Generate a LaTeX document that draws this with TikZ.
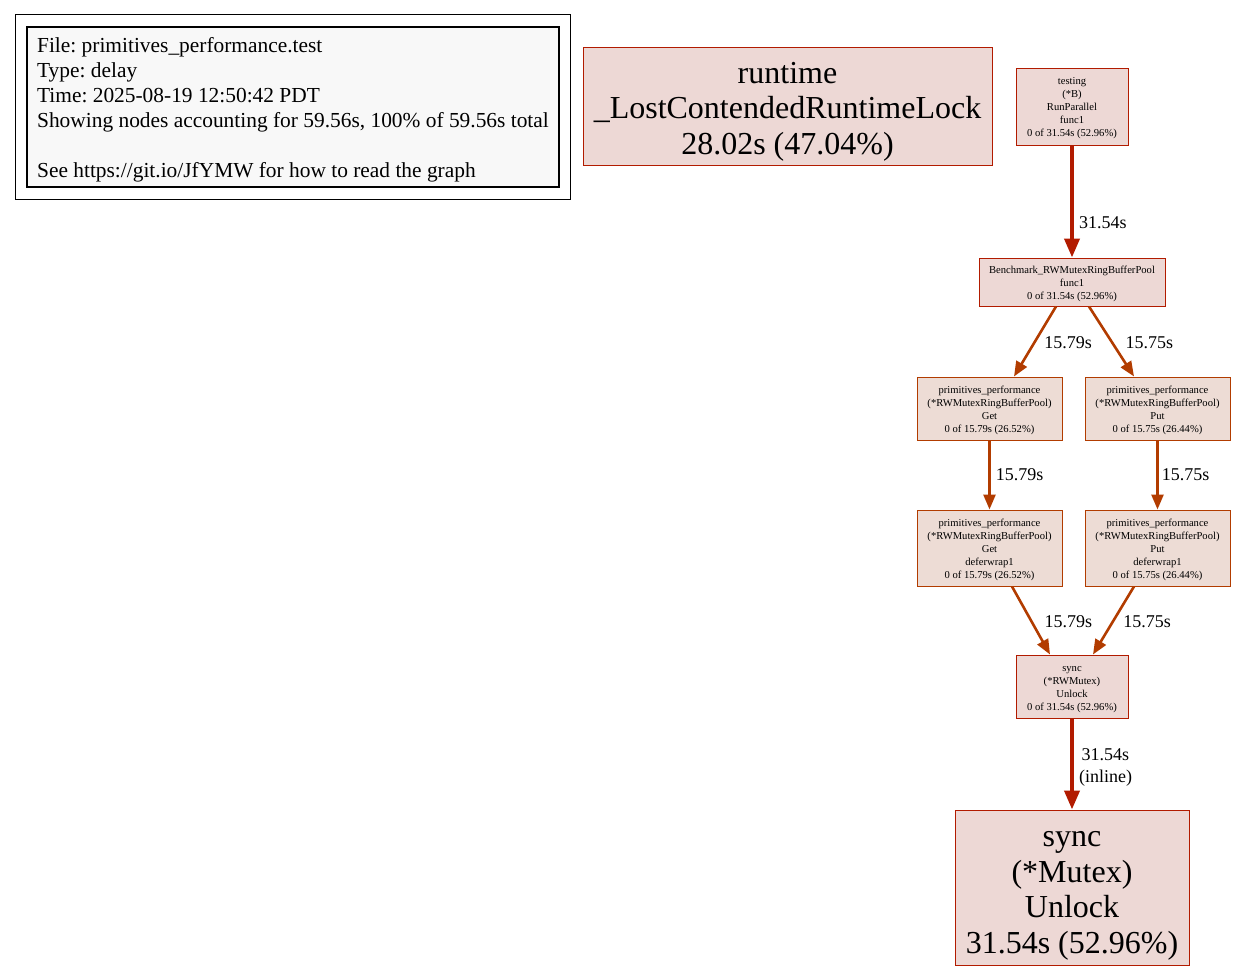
\documentclass[tikz,border=0pt]{standalone}
\usepackage{fontspec}
\setmainfont{Liberation Serif}
\usetikzlibrary{arrows.meta,fit}
\definecolor{heavyedge}{HTML}{B21B00}
\definecolor{midedge}{HTML}{B23C00}
\definecolor{heavyfill}{HTML}{EDD8D5}
\definecolor{midfill}{HTML}{EDDCD5}
\definecolor{legendfill}{HTML}{F8F8F8}
\frenchspacing
\begin{document}
\begin{tikzpicture}[x=1pt,y=-1pt]
	\tikzset{
		struts/.style={execute at begin node={\rule{0pt}{1em}}, execute at end node={\rule[-0.2em]{0pt}{0pt}}},
		size/.style 2 args={minimum width=#1, text width=#1-4pt, minimum height=#2},
		fn/.style={draw, rectangle, align=flush center, inner sep=0pt, struts},
		bigfn/.style={fn, fill=heavyfill, draw=heavyedge, line width=1pt, font=\fontsize{32}{35.5}\selectfont},
		smallfn/.style={fn, line width=1pt, font=\fontsize{10.6}{13}\selectfont},
		hotfn/.style={smallfn, fill=heavyfill, draw=heavyedge},
		warmfn/.style={smallfn, fill=midfill, draw=midedge},
		hotedge/.style={draw=heavyedge, line width=4pt, -{Triangle[length=19pt,width=15pt]}},
		warmedge/.style={draw=midedge, line width=2.6pt, -{Triangle[length=15pt,width=12pt]}},
		weight/.style={inner sep=0pt, align=center, font=\fontsize{18}{22}\selectfont}
	}
	\useasboundingbox (0,0) rectangle (1235,970);
	\node [draw, fill=legendfill, line width=1.4pt, minimum width=532pt, minimum height=160pt, align=left, inner sep=0pt, font=\fontsize{21.4}{25}\selectfont] (legend) at (293,107) {\rule{0pt}{0.97em}File: primitives\_performance.test\\Type: delay\\Time: 2025-08-19 12:50:42 PDT\\Showing nodes accounting for 59.56s, 100\% of 59.56s total\\[25pt]See https://git.io/JfYMW for how to read the graph};
	\node [draw, line width=1pt, inner xsep=11pt, inner ysep=11.5pt, fit=(legend)] (legendframe) {};
	\node [bigfn, size={409pt}{118pt}] (lostlock) at (787.5,106) {runtime\\\_LostContendedRuntimeLock\\28.02s (47.04\%)};
	\node [hotfn, size={112pt}{77pt}] (runparallel) at (1072,106.5) {testing\\(*B)\\RunParallel\\func1\\0 of 31.54s (52.96\%)};
	\node [hotfn, size={186pt}{48pt}] (bench) at (1072,282) {Benchmark\_RWMutexRingBufferPool\\func1\\0 of 31.54s (52.96\%)};
	\node [warmfn, size={145pt}{63pt}] (get) at (989.5,408.5) {primitives\_performance\\(*RWMutexRingBufferPool)\\Get\\0 of 15.79s (26.52\%)};
	\node [warmfn, size={145pt}{63pt}] (put) at (1157.5,408.5) {primitives\_performance\\(*RWMutexRingBufferPool)\\Put\\0 of 15.75s (26.44\%)};
	\node [warmfn, size={145pt}{76pt}] (getdefer) at (989.5,548) {primitives\_performance\\(*RWMutexRingBufferPool)\\Get\\deferwrap1\\0 of 15.79s (26.52\%)};
	\node [warmfn, size={145pt}{76pt}] (putdefer) at (1157.5,548) {primitives\_performance\\(*RWMutexRingBufferPool)\\Put\\deferwrap1\\0 of 15.75s (26.44\%)};
	\node [hotfn, size={112pt}{63pt}] (rwunlock) at (1072,686.5) {sync\\(*RWMutex)\\Unlock\\0 of 31.54s (52.96\%)};
	\node [bigfn, size={234pt}{155pt}] (unlock) at (1072,887.5) {sync\\(*Mutex)\\Unlock\\31.54s (52.96\%)};
	\draw [hotedge] (runparallel.south) -- (bench.north) node [weight, pos=.69, right=5pt] {31.54s};
	\draw [warmedge] ([xshift=-16pt]bench.south) -- ([xshift=24.5pt]get.north) node [weight, pos=.52, right=9pt] {15.79s};
	\draw [warmedge] ([xshift=17pt]bench.south) -- ([xshift=-23.5pt]put.north) node [weight, pos=.52, right=12pt] {15.75s};
	\draw [warmedge] (get.south) -- (getdefer.north) node [weight, pos=.5, right=5pt] {15.79s};
	\draw [warmedge] (put.south) -- (putdefer.north) node [weight, pos=.5, right=3pt] {15.75s};
	\draw [warmedge] ([xshift=22.5pt]getdefer.south) -- ([xshift=-22pt]rwunlock.north) node [weight, pos=.51, right=12pt] {15.79s};
	\draw [warmedge] ([xshift=-23.5pt]putdefer.south) -- ([xshift=21pt]rwunlock.north) node [weight, pos=.51, right=9pt] {15.75s};
	\draw [hotedge] (rwunlock.south) -- (unlock.north) node [weight, pos=.54, right=5pt] {31.54s\\(inline)};
\end{tikzpicture}
\end{document}
